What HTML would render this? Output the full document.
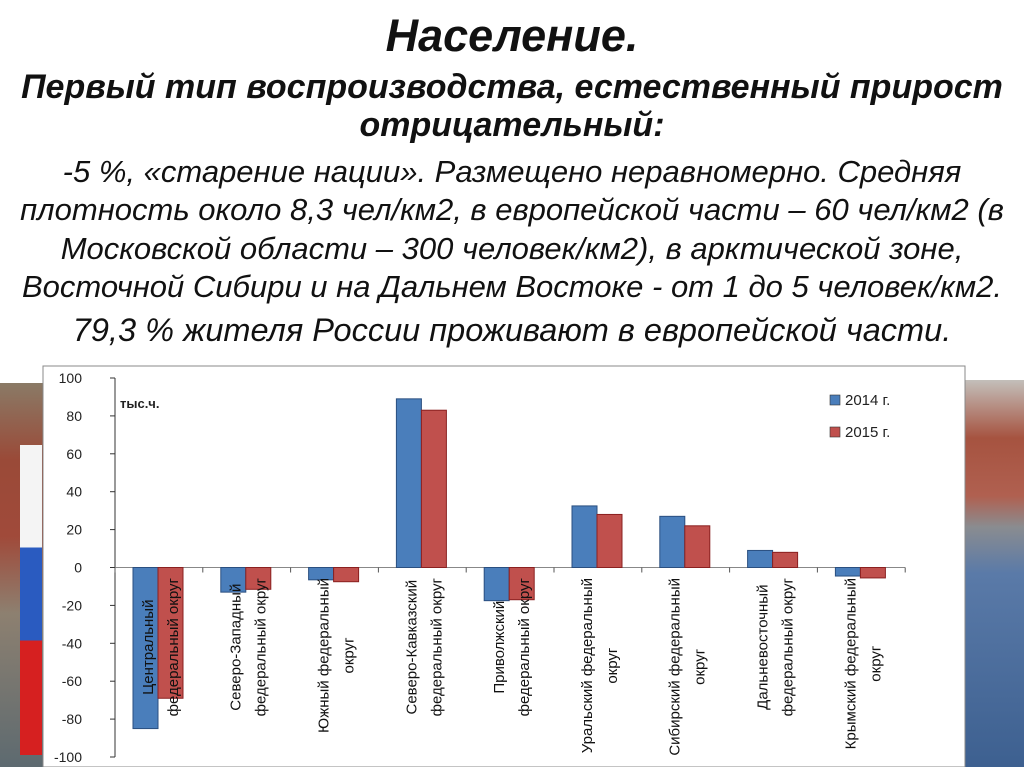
<!DOCTYPE html>
<html><head><meta charset="utf-8"><style>
body{margin:0;width:1024px;height:767px;overflow:hidden;background:#fff;font-family:"Liberation Sans",sans-serif;position:relative}
.bgL{position:absolute;left:0;top:383px;width:44px;height:384px;background:linear-gradient(180deg,#8a7a66 0%,#9a4a38 20%,#a04a3a 40%,#8d8070 60%,#5d6a70 100%)}
.flag{position:absolute;left:20px;top:445px;width:22px;height:310px;background:linear-gradient(180deg,#f4f4f4 0%,#f4f4f4 33%,#2a5bc0 33%,#2a5bc0 63%,#d62020 63%,#d62020 100%)}
.bgR{position:absolute;left:965px;top:380px;width:59px;height:387px;background:linear-gradient(180deg,#c3bfba 0%,#a65340 15%,#b06050 30%,#8a8c90 38%,#5a7aa8 50%,#3d6090 100%)}
.t{position:absolute;left:0;width:1024px;text-align:center;font-style:italic;color:#111;white-space:nowrap}
</style></head><body>
<div class="bgL"></div>
<div class="flag"></div>
<div class="bgR"></div>
<div class="t" style="top:10px;font-size:45px;line-height:52px;font-weight:bold">Население.</div>
<div class="t" style="top:68px;font-size:34px;font-weight:bold;line-height:38px">Первый тип воспроизводства, естественный прирост<br>отрицательный:</div>
<div class="t" style="top:153px;font-size:31px;line-height:38.3px">-5 %, «старение нации». Размещено неравномерно. Средняя<br>плотность около 8,3 чел/км2, в европейской части – 60 чел/км2 (в<br>Московской области – 300 человек/км2), в арктической зоне,<br>Восточной Сибири и на Дальнем Востоке - от 1 до 5 человек/км2.</div>
<div class="t" style="top:311px;font-size:32.5px;line-height:38px">79,3 % жителя России проживают в европейской части.</div>
<svg id="c" style="position:absolute;left:0;top:0" width="1024" height="767"></svg>
<script>
const categories=[["Центральный","федеральный округ"],["Северо-Западный","федеральный округ"],["Южный федеральный","округ"],["Северо-Кавказский","федеральный округ"],["Приволжский","федеральный округ"],["Уральский федеральный","округ"],["Сибирский федеральный","округ"],["Дальневосточный","федеральный округ"],["Крымский федеральный","округ"]];
const values2014=[-85,-13,-6.5,89,-17.5,32.5,27,9,-4.5];
const values2015=[-69,-11.5,-7.5,83,-17,28,22,8,-5.5];
const yTicks=[100,80,60,40,20,0,-20,-40,-60,-80,-100];
const svg=document.getElementById('c');const NS='http://www.w3.org/2000/svg';
function mk(t,a,p){const e=document.createElementNS(NS,t);for(const k in a)e.setAttribute(k,a[k]);(p||svg).appendChild(e);return e;}
const y=v=>567.5-v*1.895;const x0=115,slot=87.8;const x=i=>x0+i*slot;
const bg=mk('rect',{x:43,y:366,width:922,height:401,fill:'#fff',stroke:'#888'});

mk('line',{x1:x0,y1:y(100),x2:x0,y2:y(-100),stroke:'#333'});
yTicks.forEach(v=>{mk('line',{x1:x0-5,y1:y(v),x2:x0,y2:y(v),stroke:'#333'});
const t=mk('text',{x:82,y:y(v)+5,'text-anchor':'end','font-size':14,fill:'#222'});t.textContent=v;
});
mk('line',{x1:x0,y1:y(0),x2:x(categories.length),y2:y(0),stroke:'#888'});
for(let i=0;i<=categories.length;i++)mk('line',{x1:x(i),y1:y(0),x2:x(i),y2:y(0)+5,stroke:'#555'});
const u=mk('text',{x:120,y:408,'font-size':13,'font-weight':'bold',fill:'#222'});u.textContent='тыс.ч.';

categories.forEach((c,i)=>{
[[values2014[i],'#4a7ebb','#2a4f80',0],[values2015[i],'#c0504d','#8a2020',1]].forEach(([v,f,s,k])=>{
const top=Math.min(y(v),y(0)),h=Math.abs(y(v)-y(0));
const r=mk('rect',{x:x(i)+18+k*25,y:top,width:25,height:h,fill:f,stroke:s,'stroke-width':1});
});
const cx=x(i)+slot/2+2;
const ts=c.map((ln,j)=>{const tx=cx-8+j*25;
const t=mk('text',{'text-anchor':'middle','font-size':15,fill:'#111'});t.textContent=ln;

return [t,tx];});
const maxL=Math.max(...ts.map(([t])=>t.getComputedTextLength()));
ts.forEach(([t,tx])=>t.setAttribute('transform',`translate(${tx},${578+maxL/2}) rotate(-90)`));
});
[['2014 г.','#4a7ebb',405],['2015 г.','#c0504d',437]].forEach(([l,f,yy])=>{
const r=mk('rect',{x:830,y:yy-10,width:10,height:10,fill:f,stroke:'#333','stroke-width':0.6});

const t=mk('text',{x:845,y:yy,'font-size':15,fill:'#222'});t.textContent=l;
});
</script>
</body></html>
